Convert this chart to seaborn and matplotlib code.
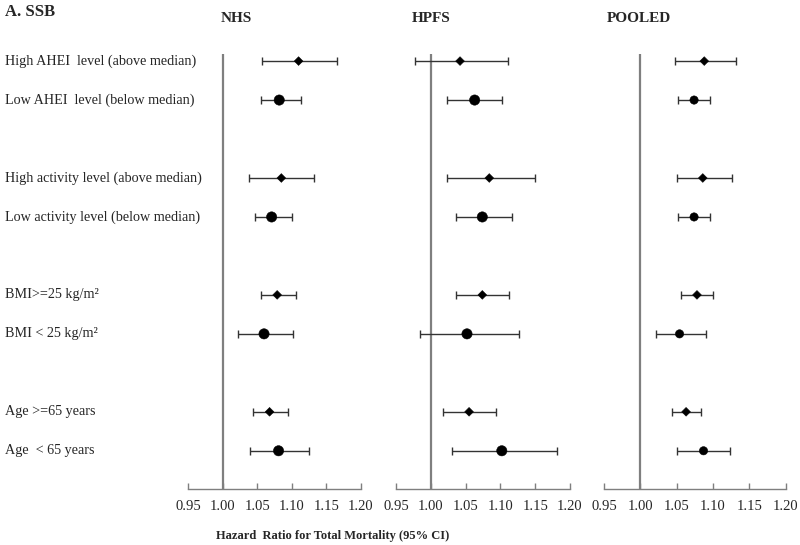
import numpy as np
import pandas as pd
import matplotlib.pyplot as plt
import matplotlib.transforms as mtransforms
import seaborn as sns

# Subgroup rows (top to bottom) and their slots on the y axis
labels = ['High AHEI  level (above median)', 'Low AHEI  level (below median)',
          'High activity level (above median)', 'Low activity level (below median)',
          'BMI>=25 kg/m\u00b2', 'BMI < 25 kg/m\u00b2',
          'Age >=65 years', 'Age  < 65 years']
ypos = [0, 1, 3, 4, 6, 7, 9, 10]
group = ['high', 'low'] * 4

# Hazard ratios with 95% CI
nhs_hr = [1.110, 1.082, 1.085, 1.071, 1.079, 1.060, 1.068, 1.081]
nhs_lo = [1.057, 1.056, 1.038, 1.047, 1.055, 1.022, 1.044, 1.040]
nhs_hi = [1.166, 1.113, 1.133, 1.101, 1.106, 1.102, 1.095, 1.125]

hpfs_hr = [1.042, 1.063, 1.084, 1.074, 1.074, 1.052, 1.055, 1.102]
hpfs_lo = [0.977, 1.023, 1.023, 1.036, 1.036, 0.984, 1.017, 1.031]
hpfs_hi = [1.111, 1.103, 1.149, 1.116, 1.113, 1.127, 1.094, 1.181]

pooled_hr = [1.088, 1.074, 1.086, 1.074, 1.078, 1.054, 1.063, 1.087]
pooled_lo = [1.048, 1.052, 1.050, 1.052, 1.056, 1.021, 1.043, 1.050]
pooled_hi = [1.132, 1.096, 1.126, 1.096, 1.100, 1.090, 1.084, 1.124]

xticks = [0.95, 1.00, 1.05, 1.10, 1.15, 1.20]

sns.set_style('white')
plt.rcParams['font.family'] = ['Liberation Serif', 'DejaVu Serif']

fig = plt.figure(figsize=(8, 5.45), dpi=100)

panels = [
    ('NHS', nhs_hr, nhs_lo, nhs_hi, [0.235, 0.216], 0.295, {'high': 20, 'low': 55}),
    ('HPFS', hpfs_hr, hpfs_lo, hpfs_hi, [0.495, 0.2175], 0.539, {'high': 20, 'low': 55}),
    ('POOLED', pooled_hr, pooled_lo, pooled_hi, [0.755, 0.227], 0.799, {'high': 20, 'low': 36}),
]

axes = []
for name, hr, lo, hi, (left, width), tx, sizes in panels:
    ax = fig.add_axes([left, 0.1028, width, 0.798])
    df = pd.DataFrame({'hr': hr, 'lo': lo, 'hi': hi, 'y': ypos, 'group': group})

    ax.axvline(1.0, color='#7f7f7f', lw=1.6, zorder=1)
    ax.errorbar(df['hr'], df['y'], xerr=[df['hr'] - df['lo'], df['hi'] - df['hr']],
                fmt='none', ecolor='#333333', elinewidth=1, capsize=3, capthick=1, zorder=2)
    sns.scatterplot(data=df, x='hr', y='y', style='group', markers={'high': 'D', 'low': 'o'},
                    size='group', sizes=sizes, color='black', edgecolor='black',
                    legend=False, ax=ax, zorder=3)

    ax.set_xlim(0.95, 1.20)
    ax.set_ylim(10.98, -0.18)
    ax.set_xticks(xticks)
    ax.set_xticklabels([f'{t:.2f}' for t in xticks], fontsize=10.5)
    ax.set_yticks([])
    ax.set_xlabel('')
    ax.set_ylabel('')
    for s in ['left', 'top', 'right']:
        ax.spines[s].set_visible(False)
    ax.spines['bottom'].set_color('#7f7f7f')
    ax.spines['bottom'].set_linewidth(1)
    ax.tick_params(axis='x', bottom=True, direction='in', length=4, width=1,
                   color='#7f7f7f', pad=8)

    fig.text(tx, 1 - 18 / 545, name, ha='center', va='center', fontsize=11, fontweight='bold')
    axes.append(ax)

# Row labels on the left, aligned with the first panel's rows
trans = mtransforms.blended_transform_factory(fig.transFigure, axes[0].transData)
for lab, y in zip(labels, ypos):
    axes[0].text(5 / 800, y, lab, transform=trans, ha='left', va='center', fontsize=10.2)

fig.text(5 / 800, 1 - 12 / 545, 'A. SSB', ha='left', va='center', fontsize=12, fontweight='bold')
fig.text(333 / 800, 1 - 536 / 545, 'Hazard  Ratio for Total Mortality (95% CI)',
         ha='center', va='center', fontsize=9, fontweight='bold')

fig.savefig('out.png', dpi=100)
